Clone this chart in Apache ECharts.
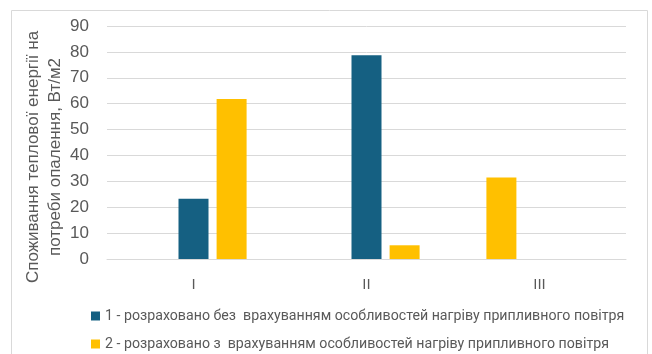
<!DOCTYPE html>
<html><head><meta charset="utf-8">
<script src="https://cdn.jsdelivr.net/npm/echarts@6/dist/echarts.min.js"></script>
<style>html,body{margin:0;padding:0;background:#fff}#c{width:652px;height:354px}</style>
</head><body><div id="c"></div>
<script>
const categories = ['I', 'II', 'III'];
const seriesNames = [
  '1 - розраховано без  врахуванням особливостей нагріву припливного повітря',
  '2 - розраховано з  врахуванням особливостей нагріву припливного повітря'
];
// Excel chart has three bar slots per category; the yellow values occupy
// the left slot in category III and the right slot in I and II.
const yellowLeft = [null, null, 31.5];
const blueValues = [23.3, 78.7, null];
const yellowRight = [61.8, 5.3, null];
const yTicks = [0, 90, 10];
const yTitle = ['Споживання теплової енергії на', 'потреби опалення, Вт/м2'];

const blue = '#156082', yellow = '#FFC000', txt = '#595959';
const chart = echarts.init(document.getElementById('c'));
const barCommon = {type: 'bar', barWidth: 30, barGap: '27%'};
const legendCommon = {left: 86, itemWidth: 9, itemHeight: 9, icon: 'rect',
  textStyle: {color: txt, fontSize: 14.2, fontFamily: 'Roboto'}};
chart.setOption({
  animation: false,
  graphic: [
    {type: 'rect', shape: {x: 11.5, y: 10.5, width: 636, height: 360}, style: {fill: 'none', stroke: '#d9d9d9', lineWidth: 1}, z: -1},
    {type: 'text', x: 44, y: 157, rotation: Math.PI / 2,
     style: {text: yTitle.join('\n'), font: '17px "Liberation Sans", Arial, sans-serif', fill: txt,
             align: 'center', verticalAlign: 'middle', lineHeight: 22}}
  ],
  grid: {left: 107, right: 26, top: 26, bottom: 95, containLabel: false},
  legend: [
    Object.assign({data: [seriesNames[0]], top: 304}, legendCommon),
    Object.assign({data: [seriesNames[1]], top: 332}, legendCommon)
  ],
  xAxis: {
    type: 'category', data: categories,
    axisLine: {lineStyle: {color: '#d9d9d9'}}, axisTick: {show: false},
    axisLabel: {color: txt, fontSize: 15, margin: 18, fontFamily: 'Liberation Sans'}
  },
  yAxis: {
    type: 'value', min: yTicks[0], max: yTicks[1], interval: yTicks[2],
    axisLine: {show: false}, axisTick: {show: false},
    splitLine: {lineStyle: {color: '#d9d9d9'}},
    axisLabel: {color: txt, fontSize: 17, margin: 18, fontFamily: 'Liberation Sans'}
  },
  series: [
    Object.assign({name: seriesNames[1], data: yellowLeft, itemStyle: {color: yellow}}, barCommon),
    Object.assign({name: seriesNames[0], data: blueValues, itemStyle: {color: blue}}, barCommon),
    Object.assign({name: seriesNames[1], data: yellowRight, itemStyle: {color: yellow}}, barCommon)
  ]
});
</script></body></html>
